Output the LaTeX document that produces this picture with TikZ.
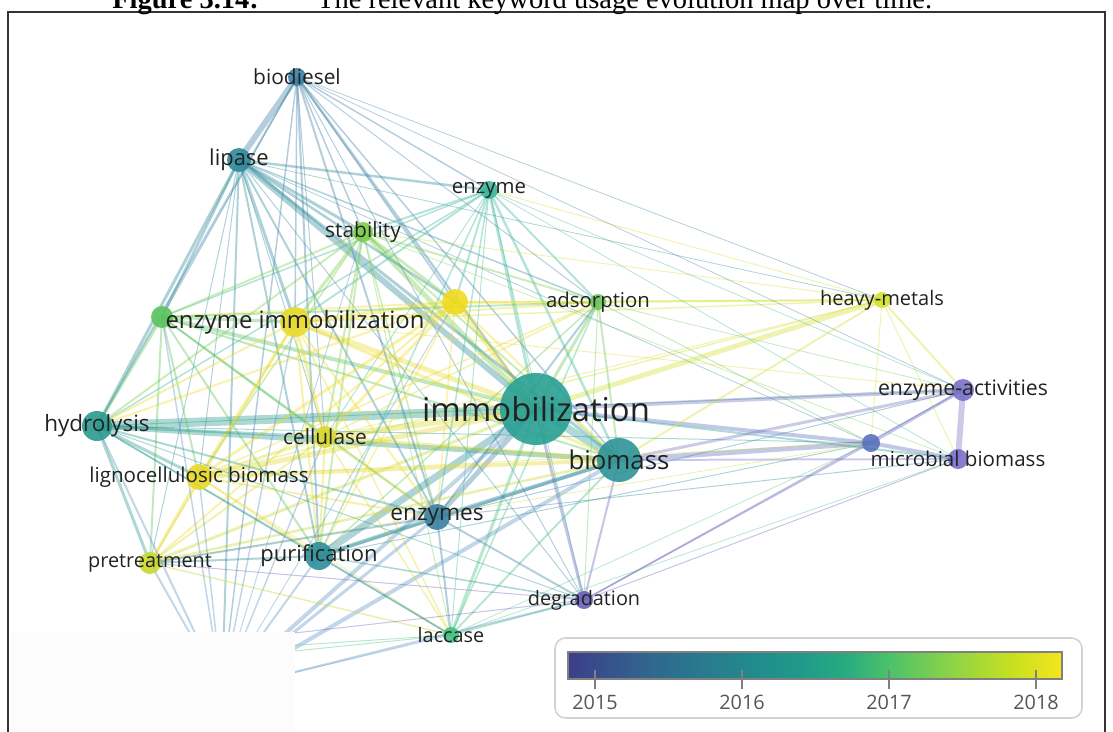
\documentclass[tikz,border=0pt]{standalone}
\usepackage{fontspec}
\setmainfont{Liberation Serif}
\newfontfamily\kwfont{Open Sans}
\usepackage{tikz}
\usetikzlibrary{positioning}

\definecolor{col-biodiesel}{HTML}{3B7FA6}
\definecolor{col-lipase}{HTML}{2E8A9B}
\definecolor{col-enzyme}{HTML}{3AB79B}
\definecolor{col-stability}{HTML}{7BCE4C}
\definecolor{col-anonY}{HTML}{F1DB1F}
\definecolor{col-adsorption}{HTML}{6CC55E}
\definecolor{col-anonG}{HTML}{5BC35D}
\definecolor{col-enzimm}{HTML}{E9DA2B}
\definecolor{col-heavy}{HTML}{D3E12D}
\definecolor{col-enzact}{HTML}{7871C6}
\definecolor{col-anonB}{HTML}{5B71BE}
\definecolor{col-micro}{HTML}{7B6FCB}
\definecolor{col-immob}{HTML}{29A094}
\definecolor{col-biomass}{HTML}{2E9498}
\definecolor{col-hydro}{HTML}{2A998F}
\definecolor{col-cellulase}{HTML}{DBD92F}
\definecolor{col-ligno}{HTML}{E7D82B}
\definecolor{col-enzymes}{HTML}{3A81A1}
\definecolor{col-purif}{HTML}{2C8E99}
\definecolor{col-pretreat}{HTML}{C9D82F}
\definecolor{col-degrad}{HTML}{6B61B9}
\definecolor{col-laccase}{HTML}{43C181}
\definecolor{col-hidA}{HTML}{5F93C4}
\definecolor{col-hidB}{HTML}{8FB0D8}
\definecolor{col-hidC}{HTML}{8FB0D8}
\definecolor{labeltext}{HTML}{222222}
\definecolor{framegray}{HTML}{333333}
\definecolor{legendgray}{HTML}{D2D2D2}
\definecolor{yeargray}{HTML}{555555}

\definecolor{viridis0}{HTML}{3D3E8A}
\definecolor{viridis1}{HTML}{2F6A8E}
\definecolor{viridis2}{HTML}{23878D}
\definecolor{viridis3}{HTML}{1F9A8A}
\definecolor{viridis4}{HTML}{27AB80}
\definecolor{viridis5}{HTML}{4CC26A}
\definecolor{viridis6}{HTML}{8FD445}
\definecolor{viridis7}{HTML}{C8E020}
\definecolor{viridis8}{HTML}{F5E51E}
% the bar only shows the middle half (25bp to 75bp)
\pgfdeclarehorizontalshading{viridis}{100bp}{
    color(0bp)=(viridis0); color(25bp)=(viridis0); color(34bp)=(viridis1);
    color(42.5bp)=(viridis2); color(48.5bp)=(viridis3); color(53bp)=(viridis4);
    color(57.5bp)=(viridis5); color(64bp)=(viridis6); color(70bp)=(viridis7);
    color(75bp)=(viridis8); color(100bp)=(viridis8)}

\pgfdeclarelayer{edges}
\pgfsetlayers{edges,main}

\tikzset{
    kw/.style = {
        shape=circle,
        inner sep=0pt,
        minimum size=#1*0.02cm,
        fill opacity=0.9
    },
    lbl/.style = {
        font=\kwfont\fontsize{#1pt}{#1pt}\selectfont,
        text=labeltext,
        text opacity=1,
        inner sep=0pt
    },
    link/.style = {
        draw opacity=0.38
    },
    year/.style = {
        font=\kwfont\fontsize{11.3pt}{11.3pt}\selectfont,
        text=yeargray,
        inner sep=0pt
    },
}

\begin{document}
\begin{tikzpicture}[x=0.02cm, y=-0.02cm]
    \useasboundingbox (0,0) rectangle (1113,731);

    \node[kw=18, fill=col-biodiesel, label={[lbl=11.9]center:biodiesel}] (biodiesel) at (297,77) {};
    \node[kw=24, fill=col-lipase, label={[lbl=12.5]center:lipase}] (lipase) at (239,160) {};
    \node[kw=18, fill=col-enzyme, label={[lbl=11.6]center:enzyme}] (enzyme) at (489,190) {};
    \node[kw=20, fill=col-stability, label={[lbl=11.9]center:stability}] (stability) at (363,232) {};
    \node[kw=26, fill=col-anonY] (anonY) at (455,302) {};
    \node[kw=16, fill=col-adsorption, label={[lbl=11.6]center:adsorption}] (adsorption) at (598,302) {};
    \node[kw=22, fill=col-anonG] (anonG) at (162,317) {};
    \node[kw=30, fill=col-enzimm, label={[lbl=13.6]center:enzyme immobilization}] (enzimm) at (295,322) {};
    \node[kw=16, fill=col-heavy, label={[lbl=11.4]center:heavy-metals}] (heavy) at (882,300) {};
    \node[kw=22, fill=col-enzact, label={[lbl=12.1]center:enzyme-activities}] (enzact) at (963,390) {};
    \node[kw=18, fill=col-anonB] (anonB) at (871,443) {};
    \node[kw=20, fill=col-micro, label={[lbl=11.7]center:microbial biomass}] (micro) at (958,459) {};
    \node[kw=72, fill=col-immob, label={[lbl=18.7]center:immobilization}] (immob) at (536,409) {};
    \node[kw=44, fill=col-biomass, label={[lbl=14.7]center:biomass}] (biomass) at (619,460) {};
    \node[kw=30, fill=col-hydro, label={[lbl=12.8]center:hydrolysis}] (hydro) at (97,426) {};
    \node[kw=22, fill=col-cellulase, label={[lbl=11.9]center:cellulase}] (cellulase) at (325,437) {};
    \node[kw=26, fill=col-ligno, label={[lbl=11.7]center:lignocellulosic biomass}] (ligno) at (199,477) {};
    \node[kw=26, fill=col-enzymes, label={[lbl=12.9]center:enzymes}] (enzymes) at (437,517) {};
    \node[kw=28, fill=col-purif, label={[lbl=12.5]center:purification}] (purif) at (319,556) {};
    \node[kw=22, fill=col-pretreat, label={[lbl=11.3]center:pretreatment}] (pretreat) at (150,563) {};
    \node[kw=18, fill=col-degrad, label={[lbl=11.3]center:degradation}] (degrad) at (584,600) {};
    \node[kw=16, fill=col-laccase, label={[lbl=11.3]center:laccase}] (laccase) at (451,635) {};
    \coordinate (hidA) at (222,690);
    \coordinate (hidB) at (40,662);
    \coordinate (hidC) at (60,675);

    \begin{pgfonlayer}{edges}
        \foreach \a/\b/\w in {
            hydro/immob/9, lipase/immob/6, biodiesel/immob/2.5, enzimm/immob/5, anonG/immob/4,
            cellulase/immob/6, ligno/immob/5, purif/immob/7, enzymes/immob/5, immob/biomass/8,
            stability/immob/5, anonY/immob/5, enzyme/immob/3, adsorption/immob/3, heavy/immob/5,
            anonB/immob/4, enzact/immob/4, immob/micro/2, degrad/immob/3, laccase/immob/3,
            pretreat/immob/3, hidA/immob/4,
            hydro/biomass/5, ligno/biomass/4, cellulase/biomass/4, enzymes/biomass/4, purif/biomass/3,
            anonB/biomass/5, enzact/biomass/3, micro/biomass/2, degrad/biomass/2, heavy/biomass/2,
            pretreat/biomass/2.5, hidA/biomass/4, enzimm/biomass/3, lipase/biomass/3, anonY/biomass/2,
            stability/biomass/2, enzyme/biomass/2.5, adsorption/biomass/2, laccase/biomass/2,
            biodiesel/biomass/1.5, anonG/biomass/2,
            enzact/micro/6, anonB/enzact/3, anonB/micro/4, heavy/enzact/2, heavy/micro/1,
            heavy/anonB/1, heavy/adsorption/2, heavy/anonY/1.5, heavy/enzyme/1, heavy/stability/1,
            heavy/enzimm/1.5, heavy/cellulase/1, heavy/ligno/1.5, degrad/enzact/1.5, degrad/anonB/1.5,
            degrad/micro/1, enzyme/enzact/0.8, enzyme/micro/0.8, biodiesel/enzact/0.8, lipase/anonB/0.8,
            stability/micro/0.8, hydro/enzact/1, hydro/anonB/1, purif/anonB/1, enzymes/enzact/1,
            enzymes/micro/1, ligno/anonB/1, enzimm/enzact/1, adsorption/anonB/1, adsorption/enzact/0.8,
            biodiesel/heavy/0.8, lipase/heavy/0.8, laccase/micro/0.8, laccase/anonB/0.8, pretreat/anonB/0.8,
            biodiesel/lipase/6, biodiesel/hydro/2, biodiesel/enzimm/1.5, biodiesel/stability/1.5,
            biodiesel/enzyme/1.5, biodiesel/anonG/1, biodiesel/purif/2, biodiesel/enzymes/2,
            biodiesel/hidA/1.5, biodiesel/adsorption/1, biodiesel/anonY/1.5, biodiesel/cellulase/1,
            biodiesel/degrad/1,
            lipase/enzyme/2.5, lipase/stability/3, lipase/anonG/2.5, lipase/hydro/3, lipase/enzimm/3,
            lipase/purif/2, lipase/enzymes/2, lipase/anonY/2.5, lipase/hidA/2, lipase/cellulase/1,
            lipase/ligno/1, lipase/adsorption/1.5, lipase/degrad/1, lipase/pretreat/1,
            enzyme/stability/2, enzyme/anonY/2, enzyme/adsorption/2, enzyme/enzimm/2, enzyme/anonG/1.5,
            enzyme/hydro/1.5, enzyme/purif/1.5, enzyme/enzymes/1.5, enzyme/cellulase/1, enzyme/laccase/1,
            enzyme/degrad/1,
            stability/anonY/3, stability/enzimm/3, stability/anonG/2, stability/hydro/2,
            stability/cellulase/2, stability/purif/2, stability/adsorption/2, stability/ligno/1.5,
            stability/enzymes/1.5, stability/laccase/1,
            anonY/enzimm/4, anonY/cellulase/3, anonY/ligno/3, anonY/adsorption/3, anonY/hydro/2,
            anonY/anonG/2, anonY/pretreat/2, anonY/purif/1.5, anonY/enzymes/1.5,
            anonG/enzimm/3, anonG/hydro/3, anonG/cellulase/2, anonG/ligno/2, anonG/purif/2,
            anonG/enzymes/2, anonG/pretreat/2, anonG/adsorption/2,
            enzimm/hydro/2, enzimm/cellulase/3, enzimm/ligno/3, enzimm/purif/2, enzimm/enzymes/2,
            enzimm/pretreat/2, enzimm/adsorption/2, enzimm/laccase/1.5,
            hydro/cellulase/3, hydro/ligno/3, hydro/pretreat/3, hydro/purif/2, hydro/enzymes/2,
            hydro/degrad/1, hydro/laccase/1, hidA/hydro/2,
            cellulase/ligno/3, cellulase/purif/2, cellulase/enzymes/2, cellulase/pretreat/2,
            cellulase/adsorption/1.5, cellulase/laccase/1.5, hidA/cellulase/1.5,
            ligno/pretreat/3, ligno/purif/2, ligno/enzymes/2, ligno/adsorption/1.5, hidA/ligno/1.5,
            ligno/laccase/1,
            purif/enzymes/4, purif/pretreat/2, purif/laccase/2, purif/degrad/1.5, hidA/purif/2,
            enzymes/laccase/2, enzymes/degrad/2, enzymes/pretreat/2, hidA/enzymes/3, enzymes/adsorption/2,
            pretreat/laccase/1.5, hidA/pretreat/2,
            laccase/adsorption/1.5, laccase/degrad/1.5, laccase/hidB/1, laccase/hidC/1,
            adsorption/degrad/1, adsorption/purif/1.5,
            hidA/degrad/2, degrad/pretreat/1, degrad/hidB/1, hidA/enzimm/1.5, hidA/anonG/1.5,
            hidA/stability/1, hidA/laccase/1, hidA/anonY/1}
            \path[draw, link, draw=col-\a, line width=\w*0.567pt] (\a.center) -- (\b.center);

        % blank panel over the lower left corner
        \fill[white!99!black] (9.5,632) rectangle (295,740);
    \end{pgfonlayer}

    % frame and heading
    \path[draw, framegray, line width=1.2pt] (8,740) -- (8,12) -- (1105,12) -- (1105,740);
    \node[anchor=base west, inner sep=0pt, font=\fontsize{16.2pt}{17pt}\selectfont] (title) at (112,8)
        {\textbf{Figure 3.14:}\hspace{2.05em}The relevant keyword usage evolution map over time.};

    % year legend
    \path[draw, legendgray, line width=0.9pt, rounded corners=6pt] (555,638) rectangle (1082,718);
    \shade[shading=viridis] (568,652) rectangle (1062,679);
    \path[draw, gray, line width=0.6pt] (568,652) rectangle (1062,679);
    \foreach \yr/\x in {2015/595, 2016/742, 2017/889, 2018/1036} {
        \path[draw, gray, line width=0.6pt] (\x,670) -- (\x,689);
        \node[year] (y\yr) at (\x,702) {\yr};
    }
\end{tikzpicture}
\end{document}
